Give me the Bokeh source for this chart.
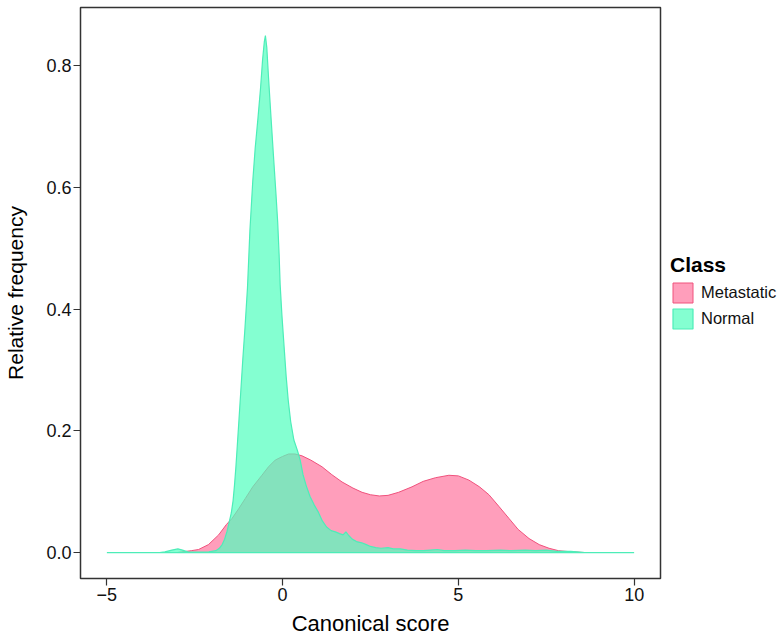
from bokeh.plotting import figure
from bokeh.layouts import row
from bokeh.models import Legend, LegendItem, FixedTicker, Range1d
from bokeh.embed import file_html
from bokeh.resources import INLINE

# ---- data ----
normal_x = [-5.0, -3.5, -3.35, -3.15, -2.98, -2.85, -2.7, -2.4, -2.1, -1.9, -1.8, -1.72,
            -1.65, -1.58, -1.52, -1.46, -1.41, -1.37, -1.33, -1.29, -1.24, -1.19, -1.13,
            -1.07, -1.0, -0.93, -0.85, -0.78, -0.70, -0.63, -0.57, -0.52, -0.49, -0.45,
            -0.40, -0.33, -0.26, -0.19, -0.14, -0.10, -0.07, -0.02, 0.04, 0.10, 0.16,
            0.23, 0.32, 0.42, 0.50, 0.58, 0.67, 0.78, 0.90, 1.02, 1.13, 1.25, 1.38, 1.5,
            1.62, 1.72, 1.8, 1.88, 1.98, 2.1, 2.25, 2.38, 2.5, 2.65, 2.8, 3.0, 3.15, 3.35,
            3.55, 3.8, 4.0, 4.2, 4.4, 4.6, 4.9, 5.2, 5.5, 5.8, 6.2, 6.5, 6.9, 7.2, 7.5,
            7.8, 8.2, 8.6, 10.0]
normal_y = [0.0, 0.0, 0.001, 0.004, 0.006, 0.004, 0.001, 0.0005, 0.001, 0.003, 0.007, 0.013,
            0.022, 0.035, 0.05, 0.065, 0.085, 0.11, 0.14, 0.175, 0.22, 0.265, 0.32,
            0.37, 0.435, 0.53, 0.61, 0.665, 0.715, 0.762, 0.81, 0.84, 0.85, 0.83,
            0.78, 0.715, 0.652, 0.59, 0.543, 0.49, 0.44, 0.39, 0.34, 0.29, 0.25,
            0.215, 0.185, 0.168, 0.152, 0.128, 0.11, 0.092, 0.078, 0.066, 0.052, 0.042, 0.036, 0.034,
            0.031, 0.029, 0.034, 0.028, 0.022, 0.018, 0.016, 0.013, 0.010, 0.008, 0.007, 0.008, 0.006, 0.006,
            0.004, 0.003, 0.003, 0.004, 0.005, 0.003, 0.003, 0.004, 0.003, 0.003, 0.004, 0.003, 0.004, 0.003, 0.004,
            0.002, 0.002, 0.0, 0.0]

meta_x = [-3.0, -2.88, -2.6, -2.39, -2.11, -1.82, -1.6, -1.44, -1.25, -1.06, -0.85, -0.59,
          -0.4, -0.21, 0.0, 0.17, 0.35, 0.55, 0.8, 1.12, 1.4, 1.69, 2.0, 2.26, 2.5, 2.75,
          3.0, 3.3, 3.68, 4.0, 4.35, 4.73, 5.0, 5.3, 5.6, 5.87, 6.15, 6.44, 6.7, 7.01,
          7.3, 7.58, 7.85, 8.15, 8.58]
meta_y = [0.0, 0.001, 0.003, 0.005, 0.013, 0.029, 0.046, 0.056, 0.072, 0.089, 0.108, 0.127,
          0.141, 0.152, 0.158, 0.162, 0.162, 0.159, 0.152, 0.141, 0.128, 0.116, 0.106, 0.099, 0.095, 0.093,
          0.094, 0.099, 0.108, 0.117, 0.123, 0.127, 0.126, 0.119, 0.108, 0.095, 0.076, 0.056, 0.038, 0.023,
          0.013, 0.007, 0.003, 0.0015, 0.0]

classes = ["Metastatic", "Normal"]
x_ticks = [-5, 0, 5, 10]
x_tick_labels = ["\u22125", "0", "5", "10"]
y_ticks = [0.0, 0.2, 0.4, 0.6, 0.8]
y_tick_labels = ["0.0", "0.2", "0.4", "0.6", "0.8"]

FONT = "Liberation Sans"
META_FILL, META_LINE = "#FF9EBB", "#F0527D"
NORM_FILL, NORM_LINE, NORM_ALPHA = "#50FFBE", "#4DEDB8", 0.7

TOTAL_H = 639

p = figure(width=662, height=TOTAL_H, output_backend="svg", toolbar_location=None,
           x_range=Range1d(-5.75, 10.75), y_range=Range1d(-0.0427, 0.896))
p.min_border_left = 80
p.min_border_right = 2
p.min_border_top = 7
p.min_border_bottom = 61
p.background_fill_color = "white"
p.border_fill_color = "white"
p.outline_line_color = "#333333"
p.outline_line_width = 1.5
p.xgrid.visible = False
p.ygrid.visible = False

p.patch(meta_x, meta_y, fill_color=META_FILL, fill_alpha=1.0,
        line_color=META_LINE, line_width=1)
p.patch(normal_x, normal_y, fill_color=NORM_FILL, fill_alpha=NORM_ALPHA,
        line_color=NORM_LINE, line_width=1.2)

for ax in (p.xaxis[0], p.yaxis[0]):
    ax.axis_line_color = None
    ax.major_tick_line_color = "#333333"
    ax.major_tick_line_width = 1.2
    ax.major_tick_out = 7
    ax.major_tick_in = 0
    ax.minor_tick_line_color = None
    ax.major_label_text_font = FONT
    ax.major_label_text_font_size = "18px"
    ax.major_label_text_color = "#111111"
    ax.major_label_standoff = 2
    ax.axis_label_text_font = FONT
    ax.axis_label_text_font_style = "normal"
    ax.axis_label_text_color = "#000000"

p.xaxis.ticker = FixedTicker(ticks=x_ticks)
p.xaxis.major_label_overrides = dict(zip(x_ticks, x_tick_labels))
p.xaxis.axis_label = "Canonical score"
p.xaxis.axis_label_text_font_size = "22px"
p.xaxis.axis_label_standoff = 7
p.yaxis.ticker = FixedTicker(ticks=y_ticks)
p.yaxis.major_label_overrides = dict(zip(y_ticks, y_tick_labels))
p.yaxis.axis_label = "Relative frequency"
p.yaxis.axis_label_text_font_size = "21px"
p.yaxis.axis_label_standoff = 16

# ---- legend panel (separate narrow figure so the legend is not clipped) ----
lf = figure(width=118, height=TOTAL_H, output_backend="svg", toolbar_location=None,
            x_range=Range1d(100, 101), y_range=Range1d(100, 101))
lf.min_border_left = 0
lf.min_border_right = 0
lf.min_border_top = 0
lf.min_border_bottom = 0
lf.axis.visible = False
lf.xgrid.visible = False
lf.ygrid.visible = False
lf.outline_line_color = None
lf.background_fill_color = "white"
lf.border_fill_color = "white"

lm = lf.patch(meta_x, meta_y, fill_color=META_FILL, fill_alpha=1.0,
              line_color=META_LINE, line_width=1)
ln = lf.patch(normal_x, normal_y, fill_color=NORM_FILL, fill_alpha=NORM_ALPHA,
              line_color=NORM_LINE, line_width=1.2)

legend = Legend(items=[LegendItem(label=classes[0], renderers=[lm]),
                       LegendItem(label=classes[1], renderers=[ln])],
                location=(8, 247), title="Class")
legend.title_text_font = FONT
legend.title_text_font_size = "21px"
legend.title_text_font_style = "bold"
legend.title_text_color = "#000000"
legend.title_standoff = 3
legend.label_text_font = FONT
legend.label_text_font_size = "16.5px"
legend.label_text_color = "#111111"
legend.glyph_width = 25
legend.glyph_height = 25
legend.label_standoff = 6
legend.spacing = 1
legend.padding = 4
legend.margin = 0
legend.border_line_color = None
legend.background_fill_alpha = 0
lf.add_layout(legend)

layout = row(p, lf, spacing=0)
open("out.html", "w").write(file_html(layout, INLINE))
